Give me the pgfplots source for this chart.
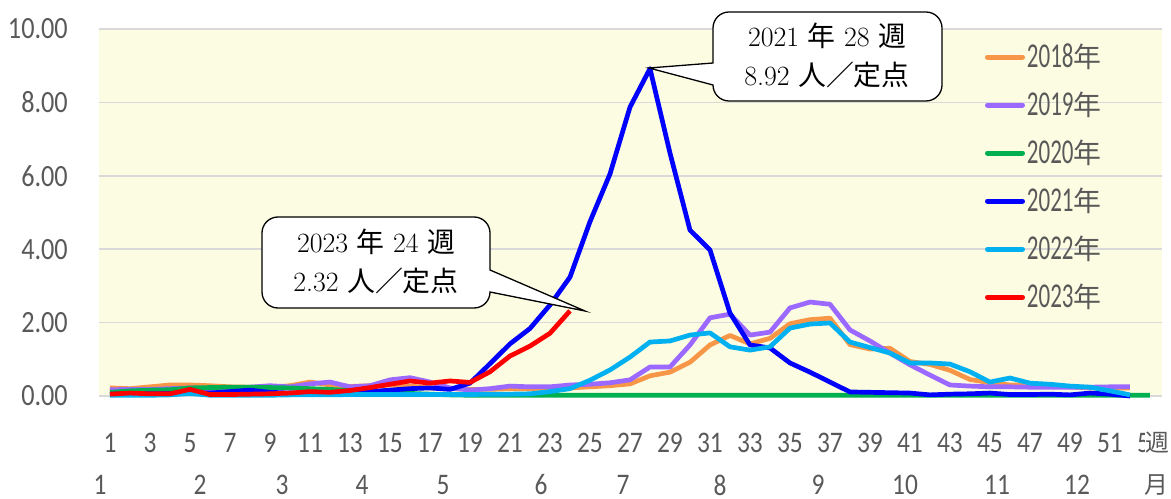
\documentclass[border=0pt]{standalone}
\usepackage{fontspec}
\usepackage{pgfplots}
\usepackage{pgfplotstable}
\pgfplotsset{compat=1.18}
\newfontfamily\lab{Carlito}[FakeStretch=0.85]
\newfontfamily\leg{Carlito}[FakeStretch=0.66]
\newfontfamily\jp{Noto Sans CJK JP}
\definecolor{bgy}{RGB}{252,252,226}
\definecolor{gridg}{RGB}{217,217,217}
\definecolor{txtg}{RGB}{89,89,89}
\definecolor{c18}{RGB}{247,150,70}
\definecolor{c19}{RGB}{155,105,255}
\definecolor{c20}{RGB}{0,176,80}
\definecolor{c21}{RGB}{0,0,255}
\definecolor{c22}{RGB}{0,176,240}
\definecolor{c23}{RGB}{255,0,0}

\pgfplotstableread{
w v
1 0.22
2 0.20
3 0.25
4 0.30
5 0.30
6 0.28
7 0.25
8 0.24
9 0.24
10 0.28
11 0.38
12 0.30
13 0.26
14 0.28
15 0.30
16 0.27
17 0.22
18 0.20
19 0.18
20 0.18
21 0.20
22 0.20
23 0.22
24 0.22
25 0.25
26 0.28
27 0.33
28 0.55
29 0.65
30 0.92
31 1.39
32 1.65
33 1.42
34 1.57
35 1.97
36 2.08
37 2.12
38 1.40
39 1.28
40 1.30
41 0.94
42 0.86
43 0.70
44 0.45
45 0.36
46 0.30
47 0.30
48 0.28
49 0.25
50 0.22
51 0.22
52 0.22
}\tA

\pgfplotstableread{
w v
1 0.17
2 0.18
3 0.18
4 0.20
5 0.22
6 0.20
7 0.20
8 0.24
9 0.28
10 0.25
11 0.33
12 0.38
13 0.25
14 0.28
15 0.44
16 0.50
17 0.38
18 0.22
19 0.16
20 0.20
21 0.27
22 0.25
23 0.25
24 0.30
25 0.32
26 0.36
27 0.44
28 0.79
29 0.79
30 1.39
31 2.13
32 2.23
33 1.66
34 1.74
35 2.40
36 2.56
37 2.50
38 1.80
39 1.50
40 1.17
41 0.85
42 0.57
43 0.30
44 0.27
45 0.25
46 0.25
47 0.24
48 0.24
49 0.24
50 0.24
51 0.25
52 0.25
}\tB

\pgfplotstableread{
w v
1 0.10
2 0.14
3 0.16
4 0.17
5 0.22
6 0.23
7 0.24
8 0.24
9 0.23
10 0.22
11 0.20
12 0.18
13 0.15
14 0.12
15 0.10
16 0.07
17 0.05
18 0.03
19 0.02
20 0.02
21 0.02
22 0.02
23 0.02
24 0.02
25 0.02
26 0.02
27 0.02
28 0.02
29 0.02
30 0.02
31 0.02
32 0.02
33 0.02
34 0.02
35 0.02
36 0.02
37 0.02
38 0.02
39 0.02
40 0.02
41 0.02
42 0.02
43 0.02
44 0.02
45 0.02
46 0.02
47 0.02
48 0.02
49 0.02
50 0.02
51 0.02
52 0.02
53 0.02
}\tC

\pgfplotstableread{
w v
1 0.05
2 0.06
3 0.06
4 0.07
5 0.08
6 0.08
7 0.12
8 0.16
9 0.10
10 0.08
11 0.08
12 0.08
13 0.10
14 0.12
15 0.16
16 0.20
17 0.22
18 0.18
19 0.35
20 0.88
21 1.42
22 1.84
23 2.48
24 3.24
25 4.75
26 6.05
27 7.87
28 8.92
29 6.62
30 4.52
31 3.98
32 2.26
33 1.39
34 1.31
35 0.90
36 0.65
37 0.38
38 0.11
39 0.10
40 0.09
41 0.08
42 0.03
43 0.05
44 0.06
45 0.08
46 0.04
47 0.04
48 0.05
49 0.03
50 0.08
51 0.05
52 0.00
}\tD

\pgfplotstableread{
w v
1 0.02
2 0.02
3 0.02
4 0.03
5 0.07
6 0.02
7 0.02
8 0.02
9 0.02
10 0.03
11 0.03
12 0.03
13 0.04
14 0.04
15 0.04
16 0.04
17 0.04
18 0.04
19 0.04
20 0.05
21 0.05
22 0.06
23 0.12
24 0.20
25 0.43
26 0.71
27 1.06
28 1.47
29 1.50
30 1.66
31 1.72
32 1.34
33 1.25
34 1.34
35 1.85
36 1.96
37 1.99
38 1.47
39 1.32
40 1.17
41 0.90
42 0.90
43 0.87
44 0.66
45 0.38
46 0.49
47 0.35
48 0.32
49 0.27
50 0.24
51 0.14
52 0.03
}\tE

\pgfplotstableread{
w v
1 0.05
2 0.08
3 0.06
4 0.06
5 0.18
6 0.04
7 0.04
8 0.05
9 0.06
10 0.08
11 0.12
12 0.10
13 0.15
14 0.23
15 0.32
16 0.41
17 0.35
18 0.41
19 0.37
20 0.66
21 1.09
22 1.36
23 1.71
24 2.32
}\tF

\newcommand{\legentry}[1]{\smash{#1{\jp\fontsize{28}{28}\selectfont 年}}\vphantom{0}}
\newcommand{\cj}[1]{{\jp #1}}

\begin{document}
\begin{tikzpicture}
\useasboundingbox (-99bp,-103bp) rectangle (1072bp,396bp);
\begin{axis}[
  scale only axis, width=1063bp, height=367bp,
  xmin=0.45, xmax=53.6, ymin=0, ymax=10,
  clip=false,
  axis background/.style={fill=bgy},
  axis line style={draw=none},
  major tick length=0pt,
  ytick={0,2,4,6,8,10},
  xtick={1,3,...,53},
  ymajorgrids,
  major grid style={draw=gridg, line width=1.6bp},
  /pgf/number format/assume math mode=true,
  yticklabel style={font=\fontsize{31}{31}\selectfont\lab, text=txtg, anchor=east, inner sep=0pt, xshift=-31bp, /pgf/number format/.cd, fixed, fixed zerofill, precision=2},
  xticklabel style={font=\fontsize{30}{30}\selectfont\lab, text=txtg, anchor=center, inner sep=0pt, yshift=-47bp},
  legend style={at={(0.8335,0.9564)}, anchor=north west, draw=none, fill=none, inner sep=0pt, outer sep=0pt, row sep=23.9bp, column sep=2bp, font=\fontsize{35}{35}\selectfont\leg, text=txtg, nodes={inner sep=0pt, outer sep=0pt}},
  legend cell align=left,
  legend image code/.code={\draw[#1, line width=5bp, line cap=round] (2.5bp,0bp) -- (37.5bp,0bp);},
  every axis plot/.append style={line width=4.7bp, line join=round, mark=none},
]
\addplot[c18] table[x=w,y=v] {\tA}; \addlegendentry{\legentry{2018}}
\addplot[c19] table[x=w,y=v] {\tB}; \addlegendentry{\legentry{2019}}
\addplot[c20] table[x=w,y=v] {\tC}; \addlegendentry{\legentry{2020}}
\addplot[c21] table[x=w,y=v] {\tD}; \addlegendentry{\legentry{2021}}
\addplot[c22] table[x=w,y=v] {\tE}; \addlegendentry{\legentry{2022}}
\addplot[c23] table[x=w,y=v] {\tF}; \addlegendentry{\legentry{2023}}
\end{axis}
% month labels
\begin{scope}[every node/.style={font=\fontsize{30}{30}\selectfont\lab, text=txtg, inner sep=0pt}]
\node at (1bp,-89bp) {1};
\node at (101bp,-89bp) {2};
\node at (183bp,-89bp) {3};
\node at (263bp,-89bp) {4};
\node at (344bp,-89bp) {5};
\node at (442bp,-89bp) {6};
\node at (524bp,-89bp) {7};
\node at (621bp,-89bp) {8};
\node at (719bp,-89bp) {9};
\node at (806bp,-89bp) {10};
\node at (898bp,-89bp) {11};
\node at (978bp,-89bp) {12};
\node[font=\fontsize{24}{24}\selectfont\jp] at (1057bp,-89bp) {月};
\node[font=\fontsize{24}{24}\selectfont\jp, fill=white] at (1058bp,-47bp) {週};
\end{scope}
% callout 2021
\draw[line width=1.3bp, fill=white]
 (630bp,384bp) -- (827bp,384bp) arc[start angle=90,end angle=0,radius=16bp]
 -- (843bp,311bp) arc[start angle=0,end angle=-90,radius=16bp]
 -- (630bp,295bp) arc[start angle=270,end angle=180,radius=16bp]
 -- (614bp,311bp) -- (550bp,328bp) -- (614bp,333bp)
 -- (614bp,368bp) arc[start angle=180,end angle=90,radius=16bp] -- cycle;
\node[anchor=base, inner sep=0pt, font=\fontsize{28}{28}\selectfont] at (728bp,349bp) {2021 \cj{年} 28 \cj{週}};
\node[anchor=base, inner sep=0pt, font=\fontsize{28}{28}\selectfont] at (728bp,310bp) {8.92 \cj{人／定点}};
% callout 2023
\draw[line width=1.3bp, fill=white]
 (179bp,179bp) -- (375bp,179bp) arc[start angle=90,end angle=0,radius=16bp]
 -- (391bp,126bp) -- (486bp,85bp) -- (391bp,104bp)
 arc[start angle=0,end angle=-90,radius=16bp]
 -- (179bp,88bp) arc[start angle=270,end angle=180,radius=16bp]
 -- (163bp,163bp) arc[start angle=180,end angle=90,radius=16bp] -- cycle;
\node[anchor=base, inner sep=0pt, font=\fontsize{28}{28}\selectfont] at (277bp,143bp) {2023 \cj{年} 24 \cj{週}};
\node[anchor=base, inner sep=0pt, font=\fontsize{28}{28}\selectfont] at (277bp,104bp) {2.32 \cj{人／定点}};
\end{tikzpicture}
\end{document}
